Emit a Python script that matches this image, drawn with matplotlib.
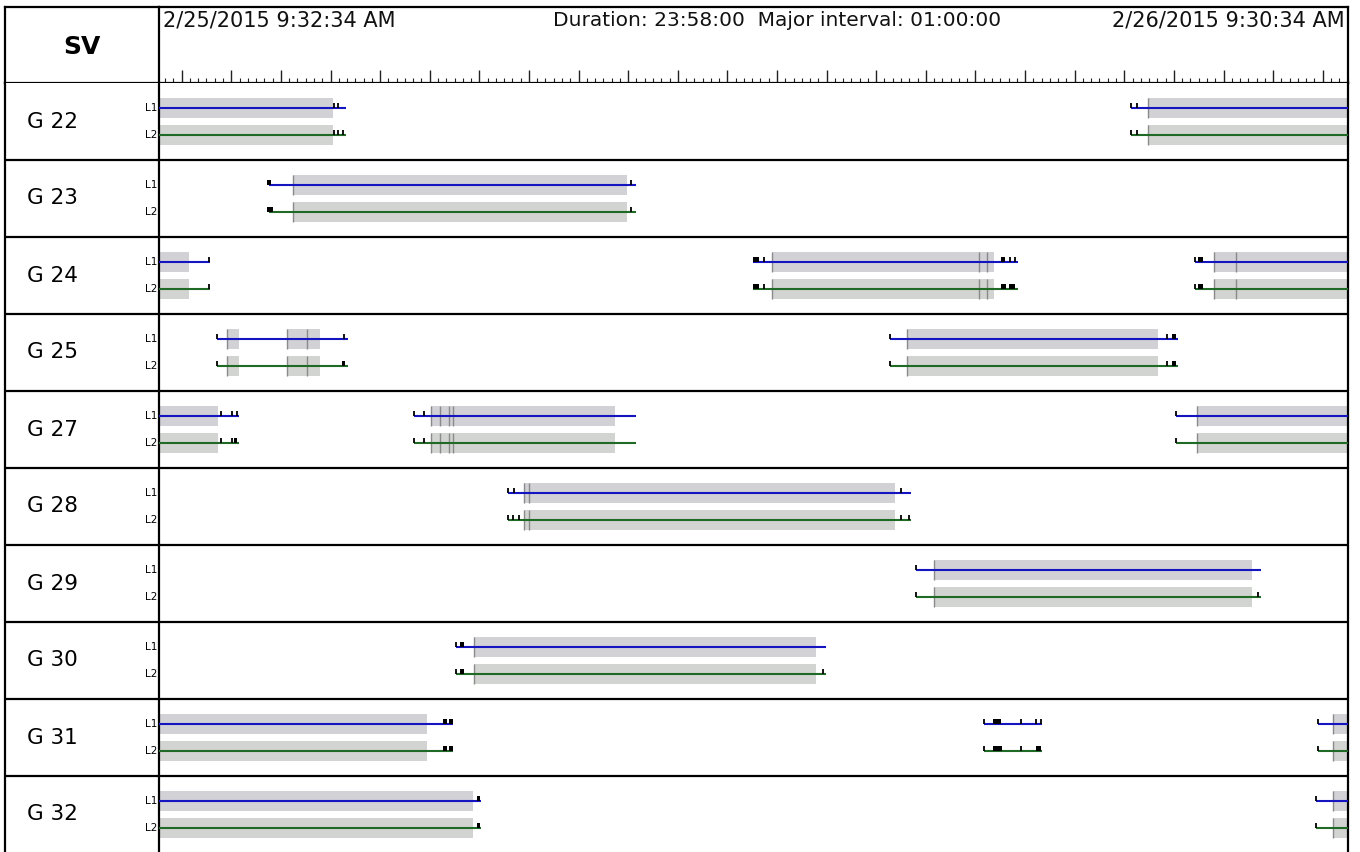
import numpy as np
import matplotlib
matplotlib.use("Agg")
import matplotlib.pyplot as plt

W, H = 1360, 852
DURATION = 23 + 58 / 60          # hours shown, 2/25 9:32:34 -> 2/26 9:30:34
START_MIN = 9 * 60 + 32 + 34 / 60

SATS = ["G 22", "G 23", "G 24", "G 25", "G 27", "G 28", "G 29", "G 30", "G 31", "G 32"]
END = DURATION

# gray availability bars (row, start h, end h)
GRAY = [(0, 0.0, 3.50), (0, 19.94, END),
        (1, 2.71, 9.43),
        (2, 0.0, 0.61), (2, 12.36, 16.84), (2, 21.27, END),
        (3, 1.38, 1.62), (3, 2.59, 3.24), (3, 15.08, 20.13),
        (4, 0.0, 1.19), (4, 5.49, 9.19), (4, 20.93, END),
        (5, 7.35, 14.84),
        (6, 15.63, 22.03),
        (7, 6.34, 13.25),
        (8, 0.0, 5.40), (8, 23.66, END),
        (9, 0.0, 6.32), (9, 23.66, END)]

# tracking lines, drawn for L1 (blue) and L2 (green)
LINES = [(0, 0.0, 3.77), (0, 19.60, END),
         (1, 2.22, 9.61),
         (2, 0.0, 1.03), (2, 11.98, 17.32), (2, 20.89, END),
         (3, 1.17, 3.80), (3, 14.74, 20.54),
         (4, 0.0, 1.61), (4, 5.14, 9.61), (4, 20.50, END),
         (5, 7.04, 15.15),
         (6, 15.25, 22.21),
         (7, 5.98, 13.44),
         (8, 0.0, 5.93), (8, 16.62, 17.80), (8, 23.36, END),
         (9, 0.0, 6.49), (9, 23.32, END)]

# darker marks inside gray bars
EDGES = [(2, 16.52), (2, 16.69), (2, 21.71), (3, 2.99),
         (4, 5.67), (4, 5.85), (4, 5.92), (5, 7.46)]

L1_TICKS = [(0, 3.52), (0, 3.61), (0, 19.60), (0, 19.72),
            (1, 9.52),
            (2, 1.01), (2, 12.19), (2, 17.16), (2, 17.26), (2, 20.89),
            (3, 1.17), (3, 3.72), (3, 14.74), (3, 20.32),
            (4, 1.25), (4, 1.47), (4, 1.57), (4, 5.14), (4, 5.34), (4, 20.50),
            (5, 7.04), (5, 7.16), (5, 14.96),
            (6, 15.25),
            (7, 5.98),
            (8, 16.62), (8, 17.38), (8, 17.68), (8, 17.78), (8, 23.36),
            (9, 23.32)]
L2_TICKS = [(0, 3.52), (0, 3.61), (0, 3.70), (0, 19.60), (0, 19.72),
            (1, 9.52),
            (2, 1.01), (2, 12.19), (2, 20.89),
            (3, 1.17), (3, 14.74), (3, 20.32),
            (4, 1.25), (4, 1.47), (4, 5.14), (4, 5.34), (4, 20.50),
            (5, 7.04), (5, 7.14), (5, 7.26), (5, 14.96), (5, 15.11),
            (6, 15.25), (6, 22.16),
            (7, 5.98), (7, 13.39),
            (8, 16.62), (8, 17.38), (8, 23.36),
            (9, 23.32)]
L1_BLOCKS = [(1, 2.18, 2.26),
             (2, 11.98, 12.09), (2, 16.98, 17.06), (2, 20.94, 21.05),
             (3, 20.42, 20.50),
             (7, 6.06, 6.14),
             (8, 5.72, 5.80), (8, 5.84, 5.92), (8, 16.82, 16.97),
             (9, 6.40, 6.47)]
L2_BLOCKS = [(1, 2.18, 2.30),
             (2, 11.98, 12.09), (2, 16.98, 17.08), (2, 17.14, 17.26), (2, 20.94, 21.05),
             (3, 3.68, 3.75), (3, 20.42, 20.50),
             (4, 1.52, 1.58),
             (7, 6.06, 6.14),
             (8, 5.72, 5.80), (8, 5.84, 5.92), (8, 16.82, 16.99), (8, 17.68, 17.78),
             (9, 6.40, 6.47)]

Y1, Y2 = 0.33, 0.67       # L1 / L2 offsets inside a row
BAR_H = 0.26
MARK_H = 0.065
BLUE, GREEN = "#1414c0", "#1f6a25"
GRAY1, GRAY2 = "#d2d2d6", "#d2d4d2"
ROW_SPAN = (H - 83) / 77.0


def box(x0, y0, x1, y1):
    return [x0 / W, 1 - y1 / H, (x1 - x0) / W, (y1 - y0) / H]


fig = plt.figure(figsize=(W / 100, H / 100), dpi=100)
BORDER = 1.6

ax_sv = fig.add_axes(box(5, 7, 159, 83))
ax_time = fig.add_axes(box(159, 7, 1348, 83))
ax_lab = fig.add_axes(box(5, 83, 159, H))
ax = fig.add_axes(box(159, 83, 1348, H))

for a in (ax_sv, ax_time, ax_lab, ax):
    a.set_xticks([])
    a.set_yticks([])
    for s in a.spines.values():
        s.set_linewidth(BORDER)
        s.set_color("black")
ax_sv.spines["right"].set_visible(False)
ax_lab.spines["right"].set_visible(False)
ax_lab.spines["bottom"].set_visible(False)
ax_lab.spines["top"].set_visible(False)
ax.spines["bottom"].set_visible(False)
ax.spines["top"].set_visible(False)

# header
ax_sv.text(0.5, 0.47, "SV", ha="center", va="center", fontsize=18,
           fontweight="bold", transform=ax_sv.transAxes)

ax_time.set_xlim(0, DURATION)
first_major = (60 - (START_MIN % 60)) / 60
first_minor = (10 - (START_MIN % 10)) / 60
ax_time.set_xticks(np.arange(first_major, DURATION, 1.0))
ax_time.set_xticks(np.arange(first_minor, DURATION, 1 / 6), minor=True)
ax_time.tick_params(axis="x", which="both", direction="in", bottom=True,
                    top=False, labelbottom=False, color="#222222")
ax_time.tick_params(axis="x", which="major", length=9.5, width=1.0)
ax_time.tick_params(axis="x", which="minor", length=3.8, width=0.8)

hy = (83 - 20) / 76
ax_time.text(4 / 1189, hy, "2/25/2015 9:32:34 AM", ha="left", va="center",
             fontsize=15, transform=ax_time.transAxes, color="#111111")
ax_time.text((553 - 159) / 1189, hy, "Duration: 23:58:00  Major interval: 01:00:00",
             ha="left", va="center", fontsize=14.5, transform=ax_time.transAxes,
             color="#111111")
ax_time.text((1345 - 159) / 1189, hy, "2/26/2015 9:30:34 AM", ha="right",
             va="center", fontsize=15, transform=ax_time.transAxes, color="#111111")

# row labels
ax_lab.set_xlim(0, 1)
ax_lab.set_ylim(ROW_SPAN, 0)
for r, name in enumerate(SATS):
    ax_lab.text((27 - 5) / 154, r + 0.5, name, ha="left", va="center", fontsize=15.5)
    ax_lab.text((157 - 5) / 154, r + Y1, "L1", ha="right", va="center", fontsize=7.5)
    ax_lab.text((157 - 5) / 154, r + Y2, "L2", ha="right", va="center", fontsize=7.5)
for r in range(1, len(SATS)):
    ax_lab.axhline(r, color="black", lw=BORDER)
    ax.axhline(r, color="black", lw=BORDER)

# timeline
ax.set_xlim(0, DURATION)
ax.set_ylim(ROW_SPAN, 0)

for r, s, e in GRAY:
    for off, col in ((Y1, GRAY1), (Y2, GRAY2)):
        y = r + off
        ax.broken_barh([(s, e - s)], (y - BAR_H / 2, BAR_H), facecolor=col,
                       edgecolor="none", zorder=1)
        if s > 0:
            ax.vlines(s, y - BAR_H / 2, y + BAR_H / 2, color="#8a8a8a", lw=1.0, zorder=2)

for r, t in EDGES:
    for off in (Y1, Y2):
        y = r + off
        ax.vlines(t, y - BAR_H / 2, y + BAR_H / 2, color="#8a8a8a", lw=1.0, zorder=2)

for r, s, e in LINES:
    ax.hlines(r + Y1, s, e, color=BLUE, lw=1.5, zorder=3)
    ax.hlines(r + Y2, s, e, color=GREEN, lw=1.5, zorder=3)

for ticks, off in ((L1_TICKS, Y1), (L2_TICKS, Y2)):
    for r, t in ticks:
        y = r + off
        ax.vlines(t, y - MARK_H, y, color="black", lw=1.3, zorder=4)

for blocks, off in ((L1_BLOCKS, Y1), (L2_BLOCKS, Y2)):
    for r, s, e in blocks:
        y = r + off
        ax.broken_barh([(s, e - s)], (y - MARK_H, MARK_H), facecolor="black",
                       edgecolor="none", zorder=4)

fig.savefig("out.png", dpi=100)
